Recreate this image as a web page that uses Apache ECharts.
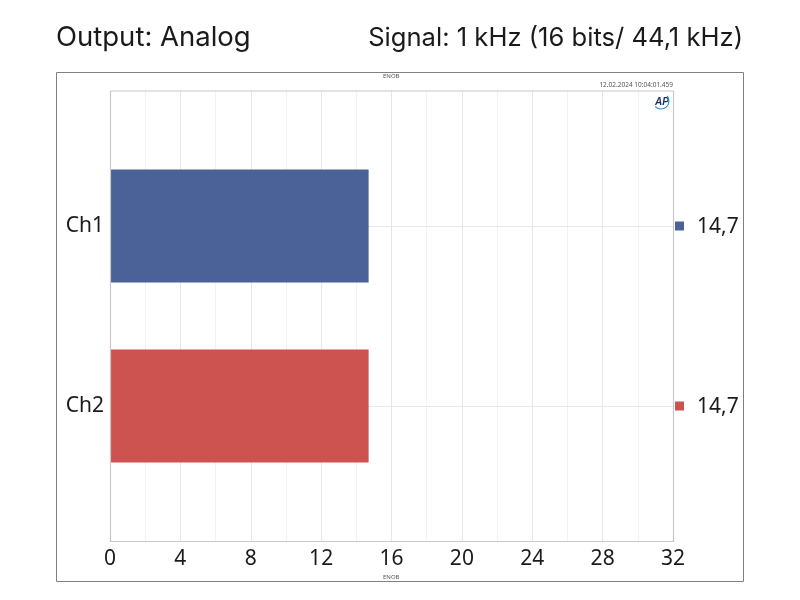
<!DOCTYPE html>
<html>
<head>
<meta charset="utf-8">
<script src="https://cdn.jsdelivr.net/npm/echarts@6/dist/echarts.min.js"></script>
<style>
  html, body { margin: 0; padding: 0; background: #fff; }
  #myChart { width: 800px; height: 600px; }
</style>
</head>
<body>
<div id="myChart"></div>
<script>
// blank rows keep the two bars spaced as in the analyzer plot
var categories = ['', 'Ch1', '', 'Ch2', ''];
var enob = [null, 14.7, null, 14.7, null];
var barColors = [null, '#4a6297', null, '#cd5350', null];
var xTicks = [0, 4, 8, 12, 16, 20, 24, 28, 32];

var myChart = echarts.init(document.getElementById('myChart'));

var uiFont = '"Noto Sans", sans-serif';
var titleFont = 'Inter, sans-serif';

function valueLabel(v) {
  return String(v).replace('.', ',');
}

myChart.setOption({
  backgroundColor: '#ffffff',
  animation: false,
  title: [
    { text: 'Output: Analog', left: 56, top: 24, padding: 0, textStyle: { fontFamily: titleFont, fontSize: 27.5, fontWeight: 'normal', color: '#1a1a1a' } },
    { text: 'Signal: 1 kHz (16 bits/ 44,1 kHz)', right: 57, top: 25, padding: 0, textStyle: { fontFamily: titleFont, fontSize: 25.6, fontWeight: 'normal', color: '#1a1a1a' } },
    { text: 'ENOB', left: 383, top: 73, padding: 0, textStyle: { fontFamily: uiFont, fontSize: 6, fontWeight: 'normal', color: '#555' } },
    { text: 'ENOB', left: 383, top: 574, padding: 0, textStyle: { fontFamily: uiFont, fontSize: 6, fontWeight: 'normal', color: '#555' } },
    { text: '12.02.2024 10:04:01.459', right: 127, top: 82, padding: 0, textStyle: { fontFamily: uiFont, fontSize: 6.5, fontWeight: 'normal', color: '#555' } }
  ],
  grid: { left: 110, top: 91, width: 563, height: 450, show: false },
  xAxis: {
    type: 'value',
    min: 0,
    max: 32,
    interval: 4,
    axisLine: { show: false },
    axisTick: { show: false },
    axisLabel: {
      fontFamily: uiFont,
      fontSize: 21,
      color: '#1a1a1a',
      margin: 8,
      customValues: xTicks
    },
    splitLine: { show: true, lineStyle: { color: '#e6e6e6', width: 1 } },
    minorTick: { show: false, splitNumber: 2 },
    minorSplitLine: { show: true, lineStyle: { color: '#f2f2f2', width: 1 } }
  },
  yAxis: [
    {
      type: 'category',
      inverse: true,
      data: categories,
      axisLine: { show: false },
      axisTick: { show: false },
      axisLabel: { fontFamily: uiFont, fontSize: 21, color: '#1a1a1a', margin: 6, interval: 0, padding: [5, 0, 0, 0] }
    },
    {
      type: 'category',
      inverse: true,
      position: 'right',
      data: categories,
      axisLine: { show: false },
      axisTick: { show: false },
      axisLabel: {
        interval: 0,
        margin: 2,
        align: 'left',
        formatter: function (v, i) {
          if (enob[i] == null) return '';
          return '{m' + i + '|}{t|' + valueLabel(enob[i]) + '}';
        },
        rich: {
          m1: { width: 9, height: 9, backgroundColor: barColors[1] },
          m3: { width: 9, height: 9, backgroundColor: barColors[3] },
          t: { fontFamily: uiFont, fontSize: 21, color: '#1a1a1a', padding: [3, 0, 0, 13] }
        }
      }
    }
  ],
  series: [
    {
      // faint rule through each channel, behind the bars
      type: 'line',
      silent: true,
      z: 1,
      data: [],
      markLine: {
        silent: true,
        z: 1,
        symbol: 'none',
        label: { show: false },
        lineStyle: { color: '#e8e8e8', width: 1, type: 'solid' },
        data: [{ yAxis: 'Ch1' }, { yAxis: 'Ch2' }]
      }
    },
    {
      type: 'bar',
      z: 3,
      barWidth: 113,
      data: enob.map(function (v, i) {
        return { value: v, itemStyle: { color: barColors[i] } };
      })
    }
  ],
  graphic: [
    // outer frame and plot border
    { type: 'rect', silent: true, z: 5, shape: { x: 56.5, y: 72.5, width: 687, height: 509 }, style: { fill: 'none', stroke: '#808080', lineWidth: 1 } },
    { type: 'polyline', silent: true, z: 5, shape: { points: [[110.5, 91], [110.5, 541.5], [673.5, 541.5], [673.5, 91], [110.5, 91]] }, style: { fill: 'none', stroke: '#c8c8c8', lineWidth: 1.2 } },
    // AP badge
    { type: 'text', silent: true, z: 6, style: { x: 655, y: 97, text: 'AP', fontFamily: 'Liberation Sans', fontSize: 10, fontWeight: 'bold', fontStyle: 'italic', fill: '#16315f' } },
    { type: 'arc', silent: true, z: 6, shape: { cx: 661, cy: 101, r: 8, startAngle: -0.7, endAngle: 2.4 }, style: { fill: 'none', stroke: '#2a8fd0', lineWidth: 1.2 } }
  ]
});
</script>
</body>
</html>
